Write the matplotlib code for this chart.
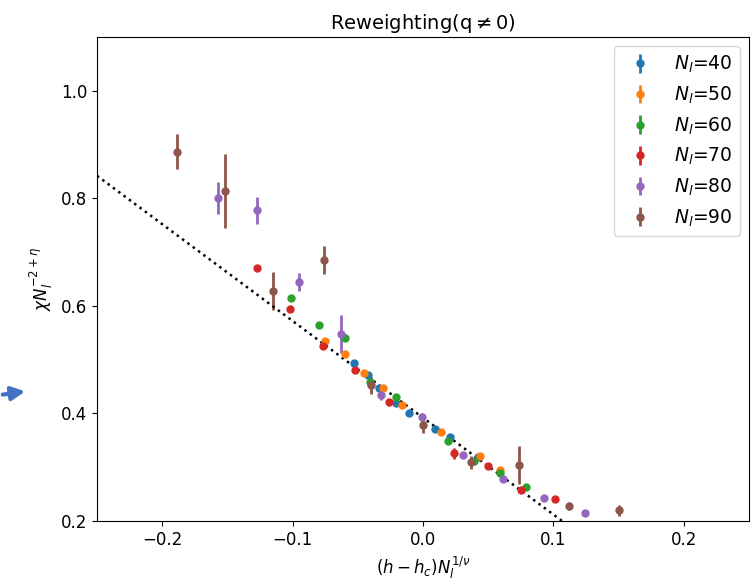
import numpy as np
import matplotlib.pyplot as plt

sizes = [40, 50, 60, 70, 80, 90]

x40 = [-0.053, -0.042, -0.034, -0.021, -0.011, 0.009, 0.021, 0.042]
y40 = [0.493, 0.472, 0.448, 0.420, 0.400, 0.372, 0.356, 0.319]
e40 = [0.005, 0.005, 0.005, 0.005, 0.005, 0.005, 0.005, 0.005]

x50 = [-0.075, -0.060, -0.045, -0.031, -0.016, 0.014, 0.044, 0.059]
y50 = [0.535, 0.511, 0.476, 0.448, 0.415, 0.365, 0.320, 0.294]
e50 = [0.005, 0.005, 0.005, 0.005, 0.005, 0.005, 0.005, 0.005]

x60 = [-0.101, -0.080, -0.060, -0.041, -0.021, 0.019, 0.039, 0.059, 0.079]
y60 = [0.615, 0.565, 0.541, 0.459, 0.430, 0.348, 0.311, 0.289, 0.263]
e60 = [0.006, 0.005, 0.006, 0.006, 0.005, 0.005, 0.005, 0.005, 0.005]

x70 = [-0.127, -0.102, -0.077, -0.052, -0.026, 0.024, 0.050, 0.075, 0.101]
y70 = [0.670, 0.594, 0.526, 0.481, 0.422, 0.326, 0.302, 0.257, 0.241]
e70 = [0.005, 0.005, 0.005, 0.005, 0.005, 0.010, 0.005, 0.005, 0.005]

x80 = [-0.157, -0.127, -0.095, -0.063, -0.032, -0.001, 0.031, 0.061, 0.093, 0.124]
y80 = [0.800, 0.778, 0.644, 0.548, 0.435, 0.393, 0.322, 0.278, 0.243, 0.215]
e80 = [0.030, 0.025, 0.017, 0.035, 0.010, 0.008, 0.005, 0.005, 0.005, 0.005]

x90 = [-0.189, -0.152, -0.115, -0.076, -0.040, 0.000, 0.037, 0.074, 0.112, 0.150]
y90 = [0.887, 0.813, 0.628, 0.685, 0.452, 0.378, 0.309, 0.304, 0.228, 0.220]
e90 = [0.033, 0.069, 0.035, 0.026, 0.015, 0.015, 0.012, 0.035, 0.008, 0.010]

# scaling guide line
fit_a = 0.392
fit_b = -1.8

xs = [x40, x50, x60, x70, x80, x90]
ys = [y40, y50, y60, y70, y80, y90]
es = [e40, e50, e60, e70, e80, e90]

fig = plt.figure(figsize=(7.56, 5.87), dpi=100)
ax = fig.add_axes([97/756, 1-521/587, (749-97)/756, (521-37)/587])

for n, x, y, e in zip(sizes, xs, ys, es):
    ax.errorbar(x, y, yerr=e, fmt='o', markersize=5, elinewidth=2,
                label='$N_l$=' + str(n))

xl = np.array([-0.25, 0.25])
ax.plot(xl, fit_a + fit_b * xl, ':', color='black', linewidth=1.8)

ax.set_xlim(-0.25, 0.25)
ax.set_ylim(0.2, 1.1)
ax.set_xticks([-0.2, -0.1, 0.0, 0.1, 0.2])
ax.set_yticks([0.2, 0.4, 0.6, 0.8, 1.0])
ax.tick_params(labelsize=12)
ax.set_xlabel(r'$(h-h_c)N_l^{1/\nu}$', fontsize=12)
ax.set_ylabel(r'$\chi N_l^{-2+\eta}$', fontsize=12)
ax.set_title(r'Reweighting(q$\neq$0)', fontsize=14)
ax.legend(loc='upper right', fontsize=13.5)

# blue arrow on the left edge
fig.patches.append(plt.matplotlib.patches.FancyArrowPatch(
    (0, 192), (28, 196), transform=None, arrowstyle='-|>',
    mutation_scale=20, color='#4472C4', linewidth=3))

fig.savefig('out.png')
